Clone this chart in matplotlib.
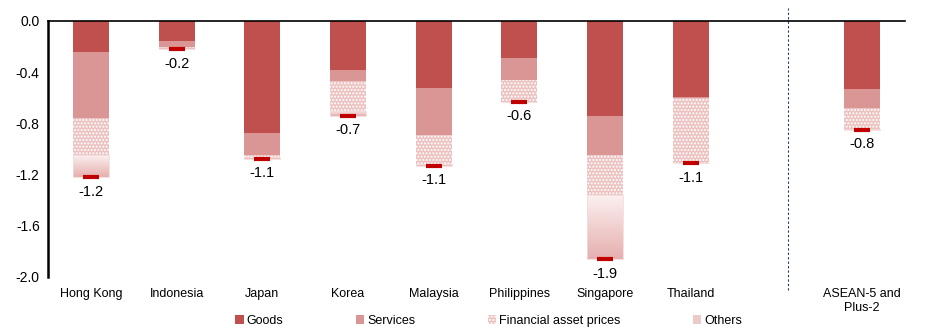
import matplotlib.pyplot as plt
import matplotlib.colors as mcolors
from matplotlib.patches import Patch
import numpy as np

plt.rcParams['font.family'] = ['Liberation Sans', 'DejaVu Sans']

# Contributions by component (percentage points)
economies = ['Hong Kong', 'Indonesia', 'Japan', 'Korea', 'Malaysia',
             'Philippines', 'Singapore', 'Thailand', 'ASEAN-5 and\nPlus-2']
goods = [-0.24, -0.16, -0.875, -0.38, -0.52, -0.29, -0.74, -0.59, -0.53]
services = [-0.52, -0.04, -0.17, -0.09, -0.37, -0.17, -0.31, -0.01, -0.15]
financial = [-0.29, -0.02, -0.02, -0.23, -0.23, -0.17, -0.31, -0.51, -0.16]
others = [-0.17, 0.00, -0.01, -0.04, -0.01, 0.00, -0.50, 0.00, -0.01]
totals = [-1.2, -0.2, -1.1, -0.7, -1.1, -0.6, -1.9, -1.1, -0.8]
yticks = [-2.0, -1.6, -1.2, -0.8, -0.4, 0.0]
ytick_labels = ['-2.0', '-1.6', '-1.2', '-0.8', '-0.4', '0.0']

# positions: one empty slot before the aggregate bar
x = np.array([0, 1, 2, 3, 4, 5, 6, 7, 9])
width = 0.42

c_goods = '#C0504D'
c_serv = '#D99694'
c_fin = '#ECC2C1'
c_oth = '#EDCACA'

fig = plt.figure(figsize=(9.34, 3.36), dpi=100)
ax = fig.add_axes([0.0514, 0.1756, 0.9176, 0.7619])

goods = np.array(goods)
services = np.array(services)
financial = np.array(financial)
others = np.array(others)

ax.bar(x, goods, width, color=c_goods)
ax.bar(x, services, width, bottom=goods, color=c_serv)
ax.bar(x, financial, width, bottom=goods + services, color=c_fin,
       hatch='.....', edgecolor='white', linewidth=0)
oth_bars = ax.bar(x, others, width, bottom=goods + services + financial,
                  facecolor='none', edgecolor='#F2DCDB', linewidth=0.6)

# gradient fill for "Others": pale at top, pinker at bottom
cmap = mcolors.LinearSegmentedColormap.from_list('oth', ['#FBEFEF', '#E6B0AF'])
grad = np.linspace(0, 1, 64).reshape(-1, 1)
for b in oth_bars:
    h = b.get_height()
    if h == 0:
        continue
    x0, y0 = b.get_x(), b.get_y()
    im = ax.imshow(grad, cmap=cmap, aspect='auto', origin='upper',
                   extent=[x0, x0 + b.get_width(), y0 + h, y0], zorder=0.9)
    im.set_clip_path(b)

# total markers
cum = goods + services + financial + others
ax.plot(x, cum, ls='none', marker='_', ms=12, mew=3, color='#C00000', zorder=3)

for xi, yi, t in zip(x, cum, totals):
    ax.text(xi, yi - 0.06, f'{t:.1f}', ha='center', va='top', fontsize=10.5)

ax.set_xlim(-0.5, 9.5)
ax.set_ylim(-2.0, 0.0)
ax.set_yticks(yticks)
ax.set_yticklabels(ytick_labels, fontsize=10)
ax.set_xticks(x)
ax.set_xticklabels(economies, fontsize=9)
ax.tick_params(axis='x', length=0, pad=8)
ax.tick_params(axis='y', length=0, pad=6)

for s in ['right', 'bottom']:
    ax.spines[s].set_visible(False)
ax.spines['left'].set_linewidth(1.8)
ax.spines['top'].set_linewidth(1.2)

# separator before the aggregate
ax.plot([8.13, 8.13], [-0.05, 1.05], transform=ax.get_xaxis_transform(),
        color='#1F3864', lw=0.8, ls=(0, (2, 2)), clip_on=False)

handles = [Patch(facecolor=c_goods), Patch(facecolor=c_serv),
           Patch(facecolor=c_fin, hatch='.....', edgecolor='white', linewidth=0),
           Patch(facecolor=c_oth)]
names = ['Goods', 'Services', 'Financial asset prices', 'Others']
ax.legend(handles, names, loc='upper center', bbox_to_anchor=(0.514, -0.105),
          ncol=4, frameon=False, fontsize=9, handlelength=0.7, handleheight=0.7,
          handletextpad=0.2, columnspacing=5.8)

fig.savefig('out.png', dpi=100)
